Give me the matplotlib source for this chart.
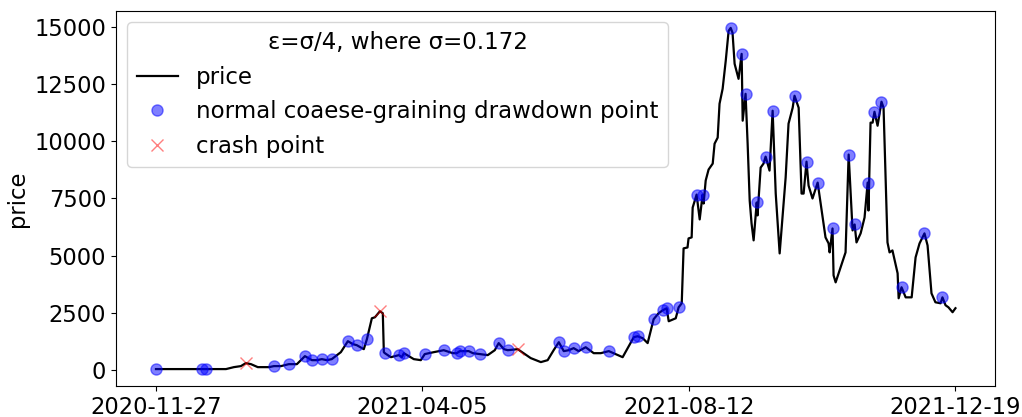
import pandas as pd
import matplotlib
matplotlib.use("Agg")
import matplotlib.pyplot as plt
from matplotlib.ticker import MultipleLocator

"""price series read off the chart (days after 2020-11-27, price)"""
start = pd.Timestamp("2020-11-27")
days = [0, 22.3, 24.2, 33.9, 37.7, 41.1, 43.5, 46, 49.3, 54.7, 57.1, 60.5, 64.3, 68.2,
        72.1, 75.5, 77.9, 80.3, 82.7, 85.1, 89.5, 92.9, 95.3, 97.2, 100.6, 102.1, 104.5,
        106, 108.4, 109.8, 110.3, 110.8, 113.7, 117.6, 119, 120, 124.8, 128.2, 130.1,
        134.5, 139.3, 143.7, 145.6, 147.1, 151.4, 153.4, 156.7, 160.6, 164, 165.9, 168.4,
        170.3, 175.1, 181.4, 186.3, 189.6, 192.5, 195, 197.4, 199.8, 202.2, 204.6, 208,
        211.9, 215.3, 219.2, 222.5, 225.9, 231.3, 233.2, 235.6, 238, 240.9, 243.3, 245.3,
        247.2, 248.2, 251.6, 253, 254.5, 255.4, 257.3, 257.8, 259.3, 259.8, 261.7, 263.2,
        264.6, 265.1, 266.1, 267.5, 269.5, 270.4, 271.9, 272.8, 274.3, 275.8, 277.2, 278.2,
        279.1, 280.1, 282, 283.5, 284, 285.4, 286.4, 287.4, 288.3, 289.3, 290.8, 291.2,
        292.7, 294.1, 295.1, 297, 298.5, 300, 301.9, 304.8, 306.2, 308.2, 309.1, 311.1,
        312.5, 313.5, 314.9, 315.9, 317.8, 320.3, 321.7, 324.1, 325.6, 326.1, 327.5, 328,
        329, 333.8, 335.3, 337.2, 338.2, 339.1, 341.1, 343, 344.5, 344.9, 345.9, 346.9,
        347.8, 349.3, 351.2, 352.2, 354.1, 355.1, 356.5, 359, 359.5, 360.9, 362.9, 365.8,
        367.7, 369.6, 372, 373.5, 375.4, 377.3, 379.8, 380.7, 382.2, 383.6, 385.6, 387]
price = [45, 45, 45, 45, 130, 175, 305, 260, 130, 130, 175, 175, 260, 260,
         610, 435, 435, 480, 435, 480, 785, 1265, 1135, 1090, 915, 1350, 2265,
         2310, 2570, 2485, 785, 740, 565, 655, 565, 740, 480, 435, 700,
         785, 870, 740, 740, 830, 830, 740, 700, 655, 870, 1180, 915,
         870, 915, 525, 350, 435, 870, 1220, 830, 870, 960, 830, 1000,
         740, 740, 830, 700, 565, 1440, 1480, 1395, 1180, 2225, 2485, 2615,
         2700, 2135, 2265, 2745, 2920, 5320, 5360, 5755, 5800, 7105, 7670, 6585,
         7670, 7280, 8285, 8765, 9025, 9895, 10160, 11640, 12295, 13515, 14825, 14955,
         14735, 13385, 12730, 13820, 10900, 12075, 9895, 7410, 6410, 5670, 7325, 6760,
         8850, 9025, 9330, 8720, 11335, 7715, 5100, 8415, 10770, 11465, 11990, 11465,
         7715, 7715, 9110, 8065, 7500, 8195, 7325, 5800, 5535, 5145, 6190, 4140,
         3835, 5145, 9420, 6105, 6365, 5580, 5975, 6670, 8195, 6975, 10815, 10815,
         11290, 10680, 11730, 11465, 5580, 5145, 5230, 4230, 3140, 3620, 3180, 3180,
         4925, 5535, 5975, 5450, 3355, 2965, 2920, 3180, 2835, 2745, 2530, 2705]

"""normal drawdown points and crash points"""
dd_days = [0, 22.3, 24.2, 57.1, 64.3, 72.1, 75.5, 80.3, 85.1, 92.9, 97.2, 102.1, 110.8,
           117.6, 120, 130.1, 139.3, 145.6, 147.1, 151.4, 156.7, 165.9, 170.3, 195, 197.4,
           202.2, 208, 219.2, 231.3, 233.2, 240.9, 245.3, 247.2, 253, 261.7, 264.6, 278.2,
           283.5, 285.4, 290.8, 295.1, 298.5, 309.1, 314.9, 320.3, 327.5, 335.3, 338.2,
           344.5, 347.8, 351.2, 360.9, 372, 380.7]
dd_price = [45, 45, 45, 175, 260, 610, 435, 480, 480, 1265, 1090, 1350, 740,
            655, 740, 700, 870, 740, 830, 830, 700, 1180, 870, 1220, 830,
            960, 1000, 830, 1440, 1480, 2225, 2615, 2700, 2745, 7670, 7670, 14955,
            13820, 12075, 7325, 9330, 11335, 11990, 9110, 8195, 6190, 9420, 6365,
            8195, 11290, 11730, 3620, 5975, 3180]
crash_days = [43.5, 108.4, 175.1]
crash_price = [305, 2570, 915]

tick_days = [0, 129, 258, 387]
tick_labels = [(start + pd.Timedelta(days=d)).strftime("%Y-%m-%d") for d in tick_days]

plt.rcParams["font.size"] = 16.3
fig, ax = plt.subplots(figsize=(10.22, 4.17), dpi=100)
fig.subplots_adjust(left=0.1135, right=0.974, top=0.974, bottom=0.074)

ax.plot(days, price, color="black", lw=1.6, label="price")
ax.plot(dd_days, dd_price, "o", color="blue", alpha=0.5, ms=8,
        label="normal coaese-graining drawdown point")
ax.plot(crash_days, crash_price, "x", color="red", alpha=0.5, ms=9,
        label="crash point")

ax.set_xticks(tick_days)
ax.set_xticklabels(tick_labels)
ax.yaxis.set_major_locator(MultipleLocator(2500))
ax.set_ylabel("price")
ax.legend(loc="upper left", title="ε=σ/4, where σ=0.172", fontsize=16.5,
          title_fontsize=16.5, handlelength=1.8)

fig.savefig("out.png")
